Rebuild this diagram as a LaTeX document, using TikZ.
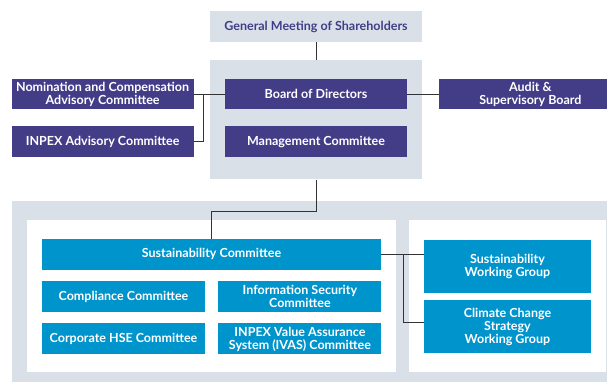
\documentclass[tikz,border=0pt]{standalone}
\usepackage{fontspec}
\setmainfont{Lato}
\usepackage{tikz}
\usetikzlibrary{positioning, calc}
\definecolor{govpurple}{HTML}{433D88}
\definecolor{susblue}{HTML}{0094CC}
\definecolor{panelgray}{HTML}{D9E0E8}
\tikzstyle{panel} = [rectangle, fill=panelgray, inner sep=0pt]
\tikzstyle{whitepanel} = [rectangle, fill=white, inner sep=0pt]
\tikzstyle{govbox} = [rectangle, fill=govpurple, text=white, font=\bfseries\fontsize{12.5}{13}\selectfont, align=center, inner sep=0pt, minimum width=182pt, minimum height=30.5pt]
\tikzstyle{susbox} = [rectangle, fill=susblue, text=white, font=\bfseries\fontsize{12.5}{13}\selectfont, align=center, inner sep=0pt, minimum width=163pt, minimum height=31pt]
\tikzstyle{link} = [line width=0.9pt, draw=black!80]

\begin{document}
\begin{tikzpicture}[x=1pt, y=-1pt]
    \useasboundingbox (0,0) rectangle (607,382);

    % Paneles
    \node (toppanel) [panel, minimum width=212pt, minimum height=119.5pt] at (316,119.75) {};
    \node (lowpanel) [panel, minimum width=595pt, minimum height=181pt] at (309.5,291.5) {};
    \node (leftpane) [whitepanel, minimum width=369pt, minimum height=152pt] at (211.5,296) {};
    \node (rightpane) [whitepanel, minimum width=197pt, minimum height=152pt] at (507.5,296) {};

    % Gobierno
    \node (gms) [panel, text=govpurple, font=\bfseries\fontsize{12.5}{13}\selectfont, minimum width=212pt, minimum height=31pt] at (316,26.5) {General Meeting of Shareholders};
    \node (bod) [govbox] at (316,94.25) {Board of Directors};
    \node (mgmt) [govbox, minimum height=31pt, below=16.5pt of bod] {Management Committee};
    \node (nomcom) [govbox, left=31pt of bod] {Nomination and Compensation\\Advisory Committee};
    \node (advcom) [govbox, minimum height=31pt, below=16.5pt of nomcom] {INPEX Advisory Committee};
    \node (audit) [govbox, right=32pt of bod] {Audit \&\\Supervisory Board};

    % Sostenibilidad
    \node (suscom) [susbox, minimum width=339pt, minimum height=30.5pt] at (211.5,254.25) {Sustainability Committee};
    \node (compl) [susbox] at (123.5,296.5) {Compliance Committee};
    \node (infosec) [susbox, right=13pt of compl] {Information Security\\Committee};
    \node (hse) [susbox, below=11pt of compl] {Corporate HSE Committee};
    \node (ivas) [susbox, right=13pt of hse] {INPEX Value Assurance\\System (IVAS) Committee};
    \node (swg) [susbox, minimum width=167pt, minimum height=53pt] at (507.5,266.5) {Sustainability\\Working Group};
    \node (ccswg) [susbox, minimum width=167pt, minimum height=53pt, below=7pt of swg] {Climate Change\\Strategy\\Working Group};

    % Lineas
    \coordinate (nomjoin) at (203,94.25);
    \coordinate (susjoin) at (403,254.25);
    \draw [link] (gms) -- (toppanel);
    \draw [link] (nomcom) -- (bod);
    \draw [link] (advcom) -| (nomjoin);
    \draw [link] (bod) -- (audit);
    \draw [link] (toppanel.south) -- ++(0,31.5) -| (suscom.north);
    \draw [link] (suscom.east) -- (suscom.east -| swg.west);
    \draw [link] (susjoin) |- ([yshift=4pt]ccswg.west);
\end{tikzpicture}
\end{document}
